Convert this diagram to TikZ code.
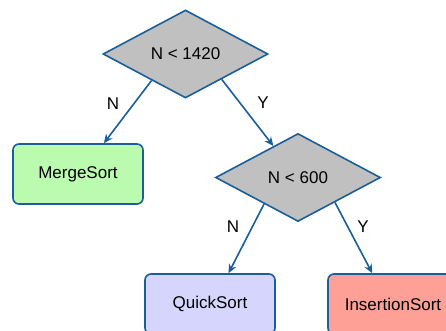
\documentclass[tikz,border=0pt]{standalone}
\usepackage{fontspec}
\setmainfont{Liberation Sans}
\usetikzlibrary{shapes.geometric,arrows.meta}
\definecolor{edgeblue}{RGB}{26,94,154}
\definecolor{dgray}{RGB}{192,192,192}
\definecolor{mgreen}{RGB}{187,251,176}
\definecolor{qlav}{RGB}{213,213,253}
\definecolor{isalmon}{RGB}{255,160,150}
\begin{document}
\begin{tikzpicture}[x=1pt,y=-1pt,
  font=\fontsize{17}{20}\selectfont,
  decision/.style={diamond, draw=edgeblue, line width=1.6pt, fill=dgray,
    minimum width=165pt, minimum height=88pt, inner sep=0pt, aspect=1.875},
  algbox/.style={rectangle, rounded corners=6pt, draw=edgeblue, line width=1.6pt,
    minimum width=130pt, minimum height=60pt, inner sep=0pt},
  conn/.style={draw=edgeblue, line width=1.6pt, -{Stealth[length=9pt,width=8pt]}},
  lbl/.style={inner sep=0pt}
]
\clip (0,0) rectangle (446,330);
\useasboundingbox (0,0) rectangle (446,330);
\node[decision] (d1) at (185.5,54) {N < 1420};
\node[decision] (d2) at (298,177.5) {N < 600};
\node[algbox, fill=mgreen] (ms) at (78,174) {MergeSort};
\node[algbox, fill=qlav] (qs) at (210,304) {QuickSort};
\node[algbox, fill=isalmon] (is) at (393,304) {InsertionSort};
\draw[conn] (d1.218) -- (ms.50);
\draw[conn] (d1.-35) -- (d2.128);
\draw[conn] (d2.218) -- (qs.59);
\draw[conn] (d2.-34) -- (is.124);
\node[lbl] (l1) at (113,104) {N};
\node[lbl] (l2) at (263,103) {Y};
\node[lbl] (l3) at (233,227) {N};
\node[lbl] (l4) at (363,227) {Y};
\end{tikzpicture}
\end{document}
